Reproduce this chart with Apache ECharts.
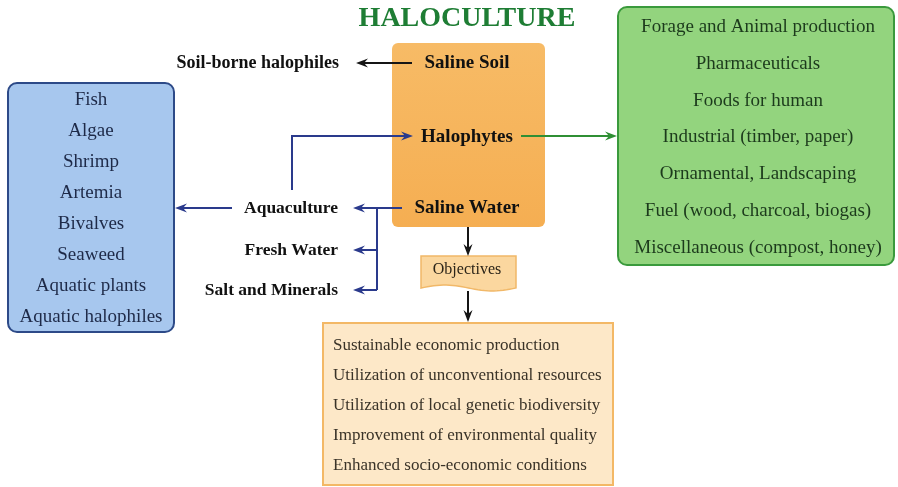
<!DOCTYPE html>
<html>
<head>
<meta charset="utf-8">
<script src="https://cdn.jsdelivr.net/npm/echarts@6/dist/echarts.min.js"></script>
<style>
  html, body { margin: 0; padding: 0; background: #fff; }
  #main { width: 898px; height: 487px; }
</style>
</head>
<body>
<div id="main"></div>
<script>
// texts of the diagram
const title = 'HALOCULTURE';
const sources = ['Saline Soil', 'Halophytes', 'Saline Water'];
const soilUse = 'Soil-borne halophiles';
const waterUses = ['Aquaculture', 'Fresh Water', 'Salt and Minerals'];
const aquaticUses = ['Fish', 'Algae', 'Shrimp', 'Artemia', 'Bivalves', 'Seaweed', 'Aquatic plants', 'Aquatic halophiles'];
const plantUses = [
  'Forage and Animal production',
  'Pharmaceuticals',
  'Foods for human',
  'Industrial (timber, paper)',
  'Ornamental, Landscaping',
  'Fuel (wood, charcoal, biogas)',
  'Miscellaneous (compost, honey)'
];
const objectivesLabel = 'Objectives';
const objectives = [
  'Sustainable economic production',
  'Utilization of unconventional resources',
  'Utilization of local genetic biodiversity',
  'Improvement of environmental quality',
  'Enhanced socio-economic conditions'
];

const SERIF = '"Liberation Serif", "DejaVu Serif", serif';
const BLUE = '#2a3a8c';
const GREEN = '#2f8f34';
const BLACK = '#151515';

function label(text, x, y, opt) {
  opt = opt || {};
  return {
    type: 'text',
    z: 10,
    style: {
      text: text,
      x: x,
      y: y,
      fill: opt.color || '#111',
      font: (opt.bold ? 'bold ' : '') + (opt.size || 17) + 'px ' + SERIF,
      textAlign: opt.align || 'center',
      textVerticalAlign: 'middle'
    }
  };
}

// polyline ending with an arrow head at the last point
function arrow(points, color) {
  const n = points.length;
  const [tx, ty] = points[n - 1];
  const [px, py] = points[n - 2];
  const len = Math.hypot(tx - px, ty - py);
  const ux = (tx - px) / len, uy = (ty - py) / len;
  const hl = 12, hw = 4.5, notch = 4;
  const bx = tx - ux * hl, by = ty - uy * hl;
  const line = points.slice(0, n - 1).concat([[tx - ux * (hl - notch), ty - uy * (hl - notch)]]);
  return [
    { type: 'polyline', z: 5, shape: { points: line }, style: { stroke: color, lineWidth: 2, fill: null } },
    {
      type: 'polygon', z: 6,
      shape: { points: [
        [tx, ty],
        [bx - uy * hw, by + ux * hw],
        [tx - ux * (hl - notch), ty - uy * (hl - notch)],
        [bx + uy * hw, by - ux * hw]
      ] },
      style: { fill: color }
    }
  ];
}

// document shape: flat top, wavy bottom
function docShape(x, y, w, h, wave) {
  const pts = [[x, y], [x + w, y]];
  for (let i = 0; i <= 30; i++) {
    const t = 1 - i / 30;
    pts.push([x + w * t, y + h - wave * Math.sin(t * 2 * Math.PI)]);
  }
  return pts;
}

const g = [];

// title
g.push(label(title, 467, 19, { bold: true, size: 28, color: '#1e7d34' }));

// central box
g.push({
  type: 'rect', z: 1,
  shape: { x: 392, y: 43, width: 153, height: 184, r: 6 },
  style: {
    fill: new echarts.graphic.LinearGradient(0, 0, 0, 1, [
      { offset: 0, color: '#f7bb66' }, { offset: 1, color: '#f5ae52' }
    ])
  }
});
const srcY = [63, 137, 208];
sources.forEach((s, i) => g.push(label(s, 467, srcY[i], { bold: true, size: 19 })));

// soil branch
g.push(...arrow([[412, 63], [356, 63]], BLACK));
g.push(label(soilUse, 339, 63, { bold: true, size: 18, align: 'right' }));

// plant uses box
g.push({
  type: 'rect', z: 1,
  shape: { x: 618, y: 7, width: 276, height: 258, r: 9 },
  style: { fill: '#93d47e', stroke: '#3a9a3c', lineWidth: 2 }
});
plantUses.forEach((s, i) => g.push(label(s, 758, 27 + i * 36.8, { size: 19, color: '#1c3a1c' })));
g.push(...arrow([[521, 136], [617, 136]], GREEN));

// water branch
const wuY = [208, 250, 290];
g.push({ type: 'polyline', z: 5, shape: { points: [[402, 208], [377, 208], [377, 290]] }, style: { stroke: BLUE, lineWidth: 2, fill: null } });
wuY.forEach((y, i) => {
  g.push(...arrow([[377, y], [353, y]], BLUE));
  g.push(label(waterUses[i], 338, y, { bold: true, size: 17.5, align: 'right' }));
});

// aquaculture back to halophytes
g.push(...arrow([[292, 190], [292, 136], [413, 136]], BLUE));

// aquatic uses box
g.push({
  type: 'rect', z: 1,
  shape: { x: 8, y: 83, width: 166, height: 249, r: 9 },
  style: { fill: '#a7c7ee', stroke: '#2d4a88', lineWidth: 2 }
});
aquaticUses.forEach((s, i) => g.push(label(s, 91, 100 + i * 31, { size: 19, color: '#1e2a48' })));
g.push(...arrow([[232, 208], [175, 208]], BLUE));

// objectives
g.push(...arrow([[468, 227], [468, 256]], BLACK));
g.push({
  type: 'polygon', z: 1,
  shape: { points: docShape(421, 256, 95, 32, 3) },
  style: { fill: '#fbd79f', stroke: '#f1b868', lineWidth: 1.5 }
});
g.push(label(objectivesLabel, 467, 270, { size: 16, color: '#2b2418' }));
g.push(...arrow([[468, 291], [468, 322]], BLACK));

g.push({
  type: 'rect', z: 1,
  shape: { x: 323, y: 323, width: 290, height: 162 },
  style: { fill: '#fde8c8', stroke: '#f3b866', lineWidth: 2 }
});
objectives.forEach((s, i) => g.push(label(s, 333, 346 + i * 30, { size: 17, color: '#3a3328', align: 'left' })));

const chart = echarts.init(document.getElementById('main'));
chart.setOption({
  backgroundColor: '#fff',
  animation: false,
  graphic: g
});
</script>
</body>
</html>
